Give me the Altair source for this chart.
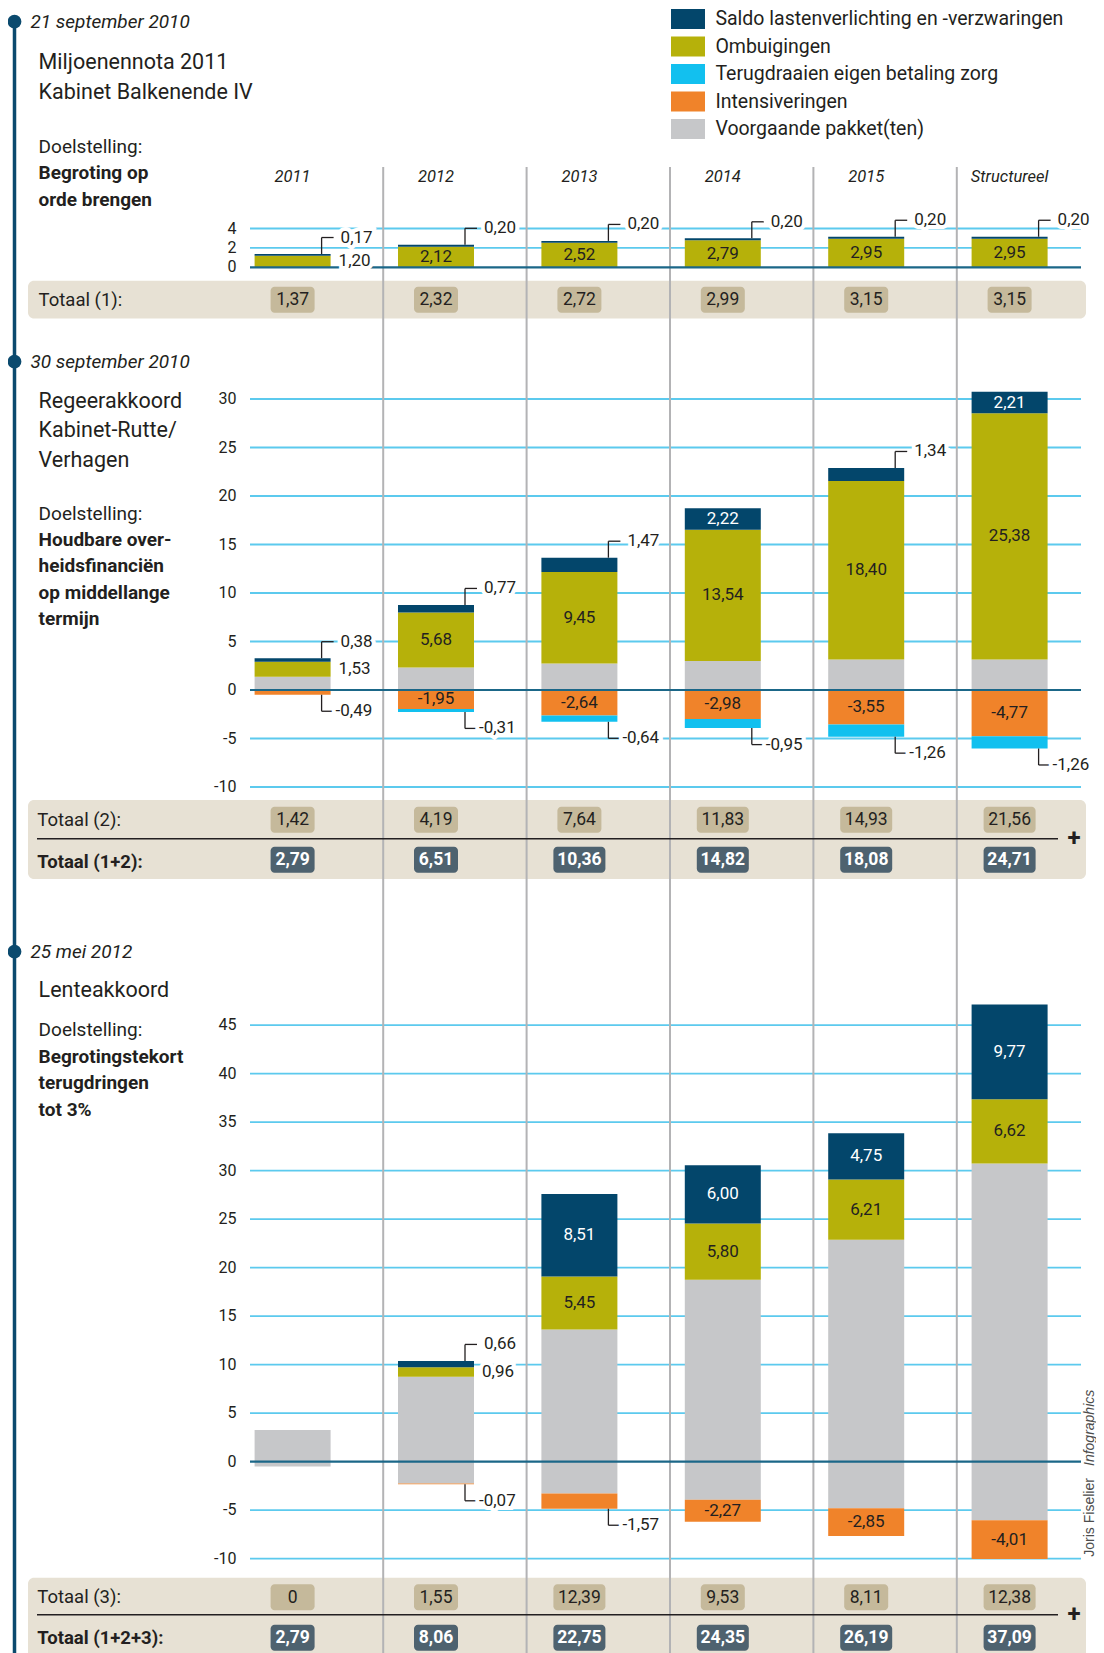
import altair as alt
import pandas as pd

# ---------------- data ----------------
cats = ["2011", "2012", "2013", "2014", "2015", "Structureel"]
series = ["Saldo lastenverlichting en -verzwaringen", "Ombuigingen",
          "Terugdraaien eigen betaling zorg", "Intensiveringen", "Voorgaande pakket(ten)"]
colors = ["#03466b", "#b6b10a", "#12c0ef", "#f0832a", "#c6c7c9"]

# 21 september 2010 - Miljoenennota 2011
s1_saldo = [0.17, 0.20, 0.20, 0.20, 0.20, 0.20]
s1_omb = [1.20, 2.12, 2.52, 2.79, 2.95, 2.95]
tot1 = ["1,37", "2,32", "2,72", "2,99", "3,15", "3,15"]

# 30 september 2010 - Regeerakkoord
s2_omb = [1.53, 5.68, 9.45, 13.54, 18.40, 25.38]
s2_saldo = [0.38, 0.77, 1.47, 2.22, 1.34, 2.21]
s2_int = [-0.49, -1.95, -2.64, -2.98, -3.55, -4.77]
s2_zorg = [0.00, -0.31, -0.64, -0.95, -1.26, -1.26]
tot2 = ["1,42", "4,19", "7,64", "11,83", "14,93", "21,56"]
tot12 = ["2,79", "6,51", "10,36", "14,82", "18,08", "24,71"]

# 25 mei 2012 - Lenteakkoord
s3_omb = [0.00, 0.96, 5.45, 5.80, 6.21, 6.62]
s3_saldo = [0.00, 0.66, 8.51, 6.00, 4.75, 9.77]
s3_int = [0.00, -0.07, -1.57, -2.27, -2.85, -4.01]
tot3 = ["0", "1,55", "12,39", "9,53", "8,11", "12,38"]
tot123 = ["2,79", "8,06", "22,75", "24,35", "26,19", "37,09"]

ticks1 = [0, 2, 4]
ticks2 = [-10, -5, 0, 5, 10, 15, 20, 25, 30]
ticks3 = [-10, -5, 0, 5, 10, 15, 20, 25, 30, 35, 40, 45]

# ---------------- style ----------------
FONT = "Roboto, Liberation Sans, sans-serif"
DARK = "#231f20"
GRID = "#5ccaee"
ZERO = "#1b6788"
SEP = "#b3b3b5"
TL = "#0b4a6e"
BEIGE = "#e7e1d4"
BADGE_L = "#c5b99b"
BADGE_D = "#4e626f"

W, H = 1088, 1645
K = 9.7
Z1, Z2, Z3 = 267.3, 690.0, 1461.7
BO, BW = -18.9, 76
XS = alt.Scale(type="band", domain=cats, range=[231.8, 1092.2], paddingInner=0, paddingOuter=0)
X = alt.X("cat:N", scale=XS, axis=None)
ONE = pd.DataFrame({"a": [0]})
COLOR = alt.Color("series:N", scale=alt.Scale(domain=series, range=colors), legend=None)

SAL, OMB, ZRG, INT, VRG = series
NUM = 17
BOLD = 19


def fmt(v):
    return f"{v:.2f}".replace(".", ",")


def p(v):
    return v - 8


prev2 = [round(a + b, 2) for a, b in zip(s1_omb, s1_saldo)]
prev3p = [round(a + b + c + d, 2) for a, b, c, d in zip(s1_omb, s1_saldo, s2_omb, s2_saldo)]
prev3n = [round(a + b, 2) for a, b in zip(s2_int, s2_zorg)]


def build(pos, neg):
    rows = []
    for i, c in enumerate(cats):
        for d, lists in (("up", pos), ("down", neg)):
            segs = [(n, vals[i]) for n, vals in lists if abs(vals[i]) > 1e-9]
            acc = 0.0
            for k, (n, v) in enumerate(segs):
                lo, hi = (acc, acc + v) if v > 0 else (acc + v, acc)
                acc += v
                if n == VRG:
                    st = "none"
                elif abs(v) >= 1.9:
                    st = "inside"
                elif k == len(segs) - 1:
                    st = "call_" + d
                else:
                    st = "side"
                edge = hi if d == "up" else lo
                ly = (edge + 1.7 if d == "up" else edge - 1.7) if st.startswith("call") else (lo + hi) / 2
                rows.append(dict(cat=c, series=n, lo=lo, hi=hi, mid=(lo + hi) / 2, edge=edge,
                                 ly=ly, label=fmt(v), style=st,
                                 tc="white" if n == SAL else DARK))
    return pd.DataFrame(rows)


d1 = build([(OMB, s1_omb), (SAL, s1_saldo)], [])
d2 = build([(VRG, prev2), (OMB, s2_omb), (SAL, s2_saldo)], [(INT, s2_int), (ZRG, s2_zorg)])
d3 = build([(VRG, prev3p), (OMB, s3_omb), (SAL, s3_saldo)], [(VRG, prev3n), (INT, s3_int)])


def section(df, Z, ticks):
    ys = alt.Scale(domain=[(Z - 8 - H) / K, (Z - 8) / K], nice=False, zero=False)

    def Y(f):
        return alt.Y(f"{f}:Q", scale=ys, axis=None)

    tk = pd.DataFrame({"v": ticks, "lab": [str(t) for t in ticks]})
    back = [alt.Chart(tk[tk.v != 0]).mark_rule(color=GRID, strokeWidth=1.8).encode(
        x=alt.value(p(250)), x2=alt.value(p(1081)), y=Y("v"))]
    bars = [alt.Chart(df).mark_bar(width=BW, xOffset=BO).encode(
        x=X, y=Y("lo"), y2=alt.Y2("hi:Q"), color=COLOR)]
    front = [alt.Chart(tk[tk.v == 0]).mark_rule(color=ZERO, strokeWidth=2.2).encode(
        x=alt.value(p(250)), x2=alt.value(p(1081)), y=Y("v")),
        alt.Chart(tk).mark_text(align="right", baseline="middle", fontSize=16, font=FONT, color=DARK).encode(
        x=alt.value(p(236.4)), y=Y("v"), text="lab:N")]
    co = df[df["style"].str.startswith("call")]
    if len(co):
        front.append(alt.Chart(co).mark_rule(color=DARK, strokeWidth=1.3, xOffset=BO + BW / 2 - 9).encode(
            x=X, y=Y("edge"), y2=alt.Y2("ly:Q")))
        front.append(alt.Chart(co).mark_tick(orient="horizontal", size=12, thickness=1.3, color=DARK,
                                             opacity=1, xOffset=BO + BW / 2 - 3).encode(x=X, y=Y("ly")))
    for st, off in (("call_up", 10), ("call_down", 5), ("side", 8)):
        sub = df[df["style"] == st]
        if len(sub):
            for halo in (True, False):
                kw = dict(stroke="white", strokeWidth=8, color="white") if halo else dict(color=DARK)
                front.append(alt.Chart(sub).mark_text(align="left", baseline="middle", fontSize=NUM, font=FONT,
                                                      xOffset=BO + BW / 2 + off, **kw).encode(
                    x=X, y=Y("ly"), text="label:N"))
    ins = df[df["style"] == "inside"]
    if len(ins):
        front.append(alt.Chart(ins).mark_text(align="center", baseline="middle", fontSize=NUM, font=FONT,
                                              xOffset=BO).encode(
            x=X, y=Y("mid"), text="label:N", color=alt.Color("tc:N", scale=None)))
    return back, bars, front


def T(text, x, y, size=19, weight="normal", style="normal", align="left", color=DARK, font=FONT, angle=0):
    return alt.Chart(ONE).mark_text(text=text, align=align, baseline="middle", fontSize=size, fontWeight=weight,
                                    fontStyle=style, color=color, font=font, angle=angle).encode(
        x=alt.value(p(x)), y=alt.value(p(y)))


def badges(texts, yc, dark):
    df = pd.DataFrame({"cat": cats, "t": texts})
    n = df["t"].str.len()
    out = []
    for sub, w in ((df[n <= 4], 44), (df[n > 4], 52)):
        if len(sub):
            out.append(alt.Chart(sub).mark_bar(width=w, xOffset=BO, cornerRadius=4,
                                               color=BADGE_D if dark else BADGE_L).encode(
                x=X, y=alt.value(p(yc - 13)), y2=alt.value(p(yc + 13))))
    out.append(alt.Chart(df).mark_text(xOffset=BO, baseline="middle", fontSize=17.5, font=FONT,
                                       fontWeight="bold" if dark else "normal",
                                       color="white" if dark else DARK).encode(
        x=X, y=alt.value(p(yc + 0.5)), text="t:N"))
    return out


def band(y0, y1):
    return alt.Chart(ONE).mark_rect(color=BEIGE, cornerRadius=6).encode(
        x=alt.value(p(28)), x2=alt.value(p(1086)), y=alt.value(p(y0)), y2=alt.value(p(y1)))


def hline(y):
    return alt.Chart(ONE).mark_rule(color=DARK, strokeWidth=1.5).encode(
        x=alt.value(p(37)), x2=alt.value(p(1058)), y=alt.value(p(y)))


b1, r1, f1 = section(d1, Z1, ticks1)
b2, r2, f2 = section(d2, Z2, ticks2)
b3, r3, f3 = section(d3, Z3, ticks3)

layers = [band(280.7, 318.4), band(800, 879), band(1577.7, 1680)]
layers += b1 + b2 + b3
layers.append(alt.Chart(pd.DataFrame({"cat": cats[1:]})).mark_rule(color=SEP, strokeWidth=2).encode(
    x=alt.X("cat:N", scale=XS, axis=None, bandPosition=0), y=alt.value(p(167)), y2=alt.value(H)))
layers.append(alt.Chart(ONE).mark_rule(color=TL, strokeWidth=3.5).encode(
    x=alt.value(p(14.5)), y=alt.value(p(21.7)), y2=alt.value(H)))
for yd in (21.7, 361.7, 951.7):
    layers.append(alt.Chart(ONE).mark_circle(size=190, color=TL, opacity=1).encode(
        x=alt.value(p(14.5)), y=alt.value(p(yd))))
layers += r1 + r2 + r3 + f1 + f2 + f3

# totals
layers += badges(tot1, 299.7, False)
layers += badges(tot2, 819.7, False) + badges(tot12, 859.7, True)
layers += badges(tot3, 1597.3, False) + badges(tot123, 1637.7, True)
layers += [hline(838.7), hline(1614.7)]
layers += [T("+", 1074, 839, 24, "bold", align="center"), T("+", 1074, 1615, 24, "bold", align="center")]
layers += [T("Totaal (1):", 38.6, 300, 18.5), T("Totaal (2):", 37.3, 819.7, 18.5),
           T("Totaal (1+2):", 37.3, 861.7, 18.5, weight="bold"),
           T("Totaal (3):", 37.3, 1597.3, 18.5), T("Totaal (1+2+3):", 37.3, 1638.3, 18.5, weight="bold")]

# year headers
layers.append(alt.Chart(pd.DataFrame({"cat": cats})).mark_text(
    xOffset=BO, baseline="middle", fontSize=16.5, fontStyle="italic", font=FONT, color=DARK).encode(
    x=X, y=alt.value(p(176.7)), text="cat:N"))

# left texts
layers += [
    T("21 september 2010", 30.4, 21.7, 19, style="italic"),
    T("Miljoenennota 2011", 38.6, 63, 21.5), T("Kabinet Balkenende IV", 38.6, 92.7, 21.5),
    T("Doelstelling:", 38.6, 146.7), T("Begroting op", 38.6, 173, BOLD, weight="bold"),
    T("orde brengen", 38.6, 200, BOLD, weight="bold"),
    T("30 september 2010", 30.4, 361.7, 19, style="italic"),
    T("Regeerakkoord", 38.6, 401.7, 21.5), T("Kabinet-Rutte/", 38.6, 430.7, 21.5), T("Verhagen", 38.6, 460.7, 21.5),
    T("Doelstelling:", 38.6, 514), T("Houdbare over-", 38.6, 540, BOLD, weight="bold"),
    T("heidsfinanciën", 38.6, 566, BOLD, weight="bold"), T("op middellange", 38.6, 592.7, BOLD, weight="bold"),
    T("termijn", 38.6, 618.7, BOLD, weight="bold"),
    T("25 mei 2012", 30.4, 951.7, 19, style="italic"),
    T("Lenteakkoord", 38.6, 991, 21.5),
    T("Doelstelling:", 38.6, 1030), T("Begrotingstekort", 38.6, 1056.7, BOLD, weight="bold"),
    T("terugdringen", 38.6, 1083.3, BOLD, weight="bold"), T("tot 3%", 38.6, 1110, BOLD, weight="bold"),
]

# legend
leg = pd.DataFrame({"series": series, "i": range(len(series))})
leg["yc"] = 19 + 27.5 * leg["i"] - 8
leg["t"] = leg["yc"] - 10
leg["b"] = leg["yc"] + 10
layers.append(alt.Chart(leg).mark_rect().encode(
    x=alt.value(p(671)), x2=alt.value(p(705)), y=alt.Y("t:Q", scale=None), y2="b:Q", color=COLOR))
layers.append(alt.Chart(leg).mark_text(align="left", baseline="middle", fontSize=19.5, font=FONT, color=DARK).encode(
    x=alt.value(p(715.4)), y=alt.Y("yc:Q", scale=None), text="series:N"))

# credit
layers += [T("Joris Fiselier", 1090, 1556.7, 14, color="#4d4d4d", font="Liberation Sans, sans-serif", angle=270),
           T("Infographics", 1090, 1466, 14, style="italic", color="#4d4d4d",
             font="Liberation Sans, sans-serif", angle=270)]

chart = alt.layer(*layers).resolve_scale(y="independent").properties(
    width=W, height=H, padding=0, autosize=alt.AutoSizeParams(type="none")
).configure_view(stroke=None)

chart.save("out.html", embed_options={"renderer": "svg", "actions": False})
